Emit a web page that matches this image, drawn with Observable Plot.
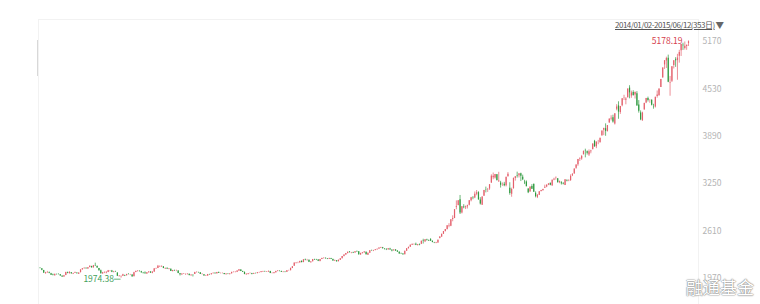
<!DOCTYPE html>
<html><head><meta charset="utf-8">
<script src="https://cdn.jsdelivr.net/npm/d3@7"></script>
<script src="https://cdn.jsdelivr.net/npm/@observablehq/plot@0.6"></script>
<style>
body{margin:0;background:#fff;width:760px;height:304px;overflow:hidden;position:relative;font-family:"Microsoft YaHei","Noto Sans CJK SC",sans-serif}
#range{position:absolute;left:615px;top:18px;font-size:8px;color:#555;white-space:nowrap;letter-spacing:-0.5px}
#range span{text-decoration:underline}
#range b{font-weight:normal;color:#666;font-size:8.5px;margin-left:1px;letter-spacing:0}
#wm{position:absolute;left:686px;top:274px;font-size:17px;color:#fff;white-space:nowrap;
 text-shadow:0 0 1px #888,0 0 1px #888,0 0 2px #999;letter-spacing:0px}
#grip{position:absolute;left:37px;top:40px;width:1px;height:36px;background:#d8d8d8}
</style></head><body>
<div id="chart"></div>
<div id="grip"></div>
<div id="range"><span>2014/01/02-2015/06/12(353日)</span><b>▼</b></div>
<div id="wm">融通基金</div>
<script>
const rangeLabel = "2014/01/02-2015/06/12(353日)";
const yTicks = [1970, 2610, 3250, 3890, 4530, 5170];

const opens = [
2112,2101,2079,2034,2047,2048,2034,2016,2008,2024,2024,2021,2001,1991,2010,2050,2036,2046,2031,2042,2043,
2027,2048,2087,2103,2110,2097,2118,2132,2114,2143,2132,2104,2075,2033,2046,2043,
2052,2071,2072,2053,2060,2045,1997,1993,2001,2010,2007,2027,2021,2017,1995,2050,2066,2067,2060,2043,2045,
2031,2047,2058,2040,2057,2100,2105,2126,2127,2128,2099,2108,2093,2094,2063,2077,2072,2071,2034,2020,2030,
2026,2025,2026,2008,2014,2025,2051,2049,2046,2023,2021,2004,2004,2023,2022,2035,2041,2034,2051,2039,
2038,2037,2022,2031,2027,2033,2051,2052,2053,2070,2086,2063,2054,2022,2023,2035,2034,2026,2037,2036,
2047,2050,2059,2064,2056,2058,2066,2036,2039,2046,2066,2070,2065,2053,2058,2054,2076,2075,2106,2136,2180,2182,2183,
2201,2185,2224,2216,2215,2183,2196,2225,2222,2220,2200,2227,2240,2243,2235,2230,2240,2228,2207,2211,2197,
2217,2236,2266,2288,2308,2328,2315,2320,2315,2333,2330,2288,2306,2316,2326,2285,2311,2346,2342,2349,2358,
2368,2383,2385,2368,2365,2357,2370,2352,2343,2355,2340,2324,2304,2302,2291,2338,2372,2393,
2420,2430,2432,2416,2425,2432,2478,2466,2494,2484,2495,2472,2454,2446,2450,2510,2530,2568,2605,2631,
2672,2677,2766,2780,2930,2955,3032,2855,2935,2925,2938,2958,3021,3059,3057,3109,3129,3030,2960,3082,3171,3162,3179,
3258,3330,3327,3371,3276,3259,3223,3242,3224,3343,3189,3108,3182,3320,3357,3358,3384,3338,3270,3274,
3180,3141,3212,3243,3120,3065,3094,3145,3159,3190,3205,3230,3257,3222,3299,
3332,3318,3264,3264,3250,3225,3294,3288,3291,3356,3382,3459,3505,3577,3582,3640,3696,3682,3637,3682,3710,3822,
3749,3825,3803,3899,3973,3992,3956,4072,4123,4140,4056,4254,4301,4212,4304,4412,4378,4411,4541,4434,4483,
4447,4465,4314,4205,4097,4245,4338,4402,4376,4377,4286,4285,4427,4438,4549,4680,4854,4906,4943,4603,
4633,4845,4924,4912,4970,5045,5119,5077,5101,5144
];
const highs = [
2113,2102,2080,2053,2066,2058,2040,2029,2027,2030,2034,2024,2008,2011,2055,2057,2060,2050,2041,2056,2045,
2045,2087,2105,2113,2112,2118,2140,2136,2146,2177,2140,2106,2084,2052,2059,2060,
2079,2077,2079,2066,2068,2046,2010,2006,2027,2015,2027,2035,2026,2020,2054,2071,2077,2073,2067,2052,2060,
2050,2063,2061,2059,2100,2109,2146,2140,2141,2130,2112,2111,2102,2099,2080,2083,2083,2075,2038,2033,2036,
2031,2035,2029,2024,2018,2054,2061,2055,2048,2031,2022,2013,2025,2027,2035,2044,2046,2052,2057,2044,
2045,2038,2034,2034,2036,2056,2058,2060,2073,2090,2088,2068,2056,2033,2036,2045,2039,2041,2043,2050,
2055,2064,2067,2068,2062,2070,2067,2047,2050,2068,2075,2073,2069,2062,2061,2076,2081,2108,2130,2178,2186,2190,2203,
2210,2224,2232,2228,2219,2198,2227,2230,2229,2224,2227,2244,2248,2247,2240,2244,2242,2232,2218,2213,2218,
2238,2267,2290,2308,2327,2333,2322,2325,2333,2341,2333,2311,2320,2333,2327,2313,2346,2353,2350,2360,2367,
2383,2391,2390,2375,2370,2375,2378,2360,2358,2360,2346,2330,2312,2305,2338,2375,2393,2423,
2438,2437,2448,2430,2436,2475,2500,2495,2500,2490,2508,2478,2458,2458,2490,2535,2568,2605,2632,2683,
2710,2764,2816,2900,3018,3021,3091,2940,2967,2948,2960,3022,3065,3076,3138,3158,3141,3061,3073,3160,3204,3186,3239,
3370,3394,3375,3374,3404,3282,3260,3268,3337,3400,3263,3190,3325,3346,3406,3383,3392,3365,3296,3288,
3181,3205,3237,3243,3140,3102,3142,3160,3176,3230,3236,3251,3258,3300,3324,
3336,3318,3286,3277,3265,3303,3303,3303,3370,3387,3449,3505,3578,3600,3632,3689,3716,3692,3706,3702,3787,3835,
3817,3835,3864,3961,4000,4058,4034,4128,4168,4175,4194,4317,4356,4294,4398,4444,4412,4529,4573,4500,4505,
4489,4493,4372,4233,4216,4338,4402,4419,4385,4382,4322,4417,4502,4529,4658,4814,4911,4958,4986,4698,
4829,4911,4951,4997,5051,5131,5147,5164,5122,5178.19
];
const lows = [
2101,2075,2037,2030,2041,2034,2011,2005,2002,2016,2019,2001,1984,1986,2008,2033,2030,2028,2023,2040,2031,
2024,2047,2082,2098,2097,2094,2114,2111,2111,2131,2108,2069,2030,2025,2036,2033,
2049,2060,2049,2046,2053,1996,1989,1974.38,1998,1996,2005,2018,2009,1985,1994,2048,2058,2058,2041,2031,2028,
2025,2043,2039,2034,2052,2094,2104,2118,2119,2103,2094,2091,2087,2064,2058,2067,2062,2035,2004,2010,2024,
2012,2016,2005,2001,1991,2024,2043,2041,2024,2018,2002,1998,2000,2014,2018,2032,2030,2029,2038,2032,
2032,2020,2018,2022,2017,2030,2046,2046,2050,2065,2063,2051,2021,2014,2019,2031,2020,2024,2031,2032,
2044,2046,2055,2054,2051,2052,2036,2033,2031,2044,2061,2060,2052,2048,2048,2051,2069,2074,2103,2134,2166,2170,2175,
2180,2184,2209,2205,2185,2178,2195,2213,2212,2198,2195,2225,2233,2230,2225,2227,2226,2203,2199,2191,2194,
2213,2235,2262,2283,2302,2314,2304,2307,2312,2324,2285,2283,2302,2310,2287,2282,2309,2336,2333,2344,2352,
2363,2375,2365,2355,2347,2350,2353,2330,2338,2338,2323,2298,2297,2284,2290,2336,2368,2391,
2416,2418,2414,2408,2412,2428,2435,2455,2475,2470,2470,2452,2441,2440,2446,2505,2525,2564,2598,2625,
2654,2670,2736,2778,2898,2950,2834,2842,2911,2901,2908,2950,3005,3033,3048,3087,3027,2962,2958,3080,3126,3132,3160,
3253,3303,3312,3285,3267,3191,3214,3209,3207,3340,3095,3067,3177,3285,3326,3327,3279,3292,3238,3209,
3116,3131,3173,3134,3059,3049,3090,3138,3147,3186,3196,3224,3222,3212,3290,
3298,3260,3250,3232,3234,3225,3275,3277,3282,3346,3380,3445,3485,3550,3566,3640,3599,3637,3618,3654,3710,3742,
3723,3776,3800,3890,3899,3890,3947,4063,4098,4068,4042,4234,4120,4186,4288,4373,4315,4408,4396,4403,4431,
4393,4298,4203,4101,4097,4245,4330,4353,4336,4300,4256,4272,4405,4433,4549,4672,4793,4806,4614,4431,
4616,4799,4821,4647,4878,4968,5049,5054,5051,5103
];
const closes = [
2109,2083,2045,2047,2052,2038,2013,2009,2026,2023,2023,2004,1991,2008,2052,2042,2054,2033,2038,2050,2033,
2044,2086,2103,2110,2100,2115,2135,2114,2142,2138,2113,2076,2034,2047,2047,2056,
2075,2071,2053,2060,2057,1999,2001,1997,2019,2004,2024,2025,2021,1993,2047,2066,2067,2063,2046,2041,2033,
2047,2059,2043,2058,2100,2105,2134,2130,2131,2105,2106,2098,2097,2066,2078,2073,2072,2036,2020,2030,2033,
2027,2028,2010,2015,2011,2052,2051,2047,2025,2026,2005,2008,2024,2021,2034,2041,2034,2050,2040,2039,
2038,2024,2030,2029,2033,2052,2054,2055,2070,2087,2066,2055,2024,2026,2034,2035,2025,2037,2036,2048,
2050,2060,2064,2060,2059,2067,2039,2038,2046,2066,2070,2067,2056,2059,2055,2075,2076,2107,2127,2178,2183,2182,2201,
2185,2223,2218,2218,2188,2194,2225,2222,2220,2202,2226,2240,2245,2238,2230,2241,2230,2207,2213,2196,2217,
2235,2266,2288,2307,2326,2320,2319,2315,2331,2331,2290,2308,2316,2329,2290,2311,2345,2344,2347,2357,2364,
2382,2389,2374,2366,2359,2373,2356,2341,2356,2339,2326,2302,2302,2290,2337,2373,2391,2420,
2430,2430,2419,2425,2418,2474,2469,2494,2485,2478,2474,2456,2450,2452,2487,2532,2567,2604,2630,2683,
2680,2763,2779,2899,2938,3020,2856,2940,2925,2938,2953,3021,3061,3057,3108,3128,3032,2977,3072,3157,3168,3166,3235,
3351,3352,3374,3294,3285,3229,3223,3222,3336,3376,3116,3173,3323,3343,3351,3383,3352,3305,3262,3210,
3128,3204,3174,3136,3076,3095,3142,3158,3173,3203,3228,3247,3228,3298,3310,
3336,3263,3280,3248,3241,3302,3286,3290,3349,3372,3449,3503,3577,3583,3617,3688,3691,3661,3682,3691,3786,3748,
3810,3826,3863,3961,3995,3957,4034,4121,4135,4084,4194,4287,4217,4293,4398,4414,4394,4527,4476,4476,4442,
4480,4298,4229,4112,4205,4334,4401,4375,4378,4308,4283,4417,4446,4529,4658,4813,4910,4941,4620,4611,
4828,4910,4910,4947,5023,5131,5113,5106,5121,5166
];

if (opens.length !== 353 || highs.length !== 353 || lows.length !== 353 || closes.length !== 353)
  throw new Error(`lengths ${opens.length} ${highs.length} ${lows.length} ${closes.length}`);

const UP = "#e4606c", DOWN = "#2f9a40";
const data = closes.map((c, i) => ({i, o: opens[i], h: highs[i], l: lows[i], c}));
const upData = data.filter(d => d.c >= d.o);
const downData = data.filter(d => d.c < d.o);
const lowV = d3.min(lows), highV = d3.max(highs);
const lowPt = [{i: lows.indexOf(lowV), v: lowV}];
const highPt = [{i: highs.indexOf(highV), v: highV}];

const chart = Plot.plot({
  width: 760, height: 304,
  marginLeft: 38, marginRight: 62, marginTop: 19, marginBottom: 0,
  style: {background: "#fff", fontFamily: "'Microsoft YaHei','Noto Sans CJK SC',sans-serif"},
  x: {domain: [0, 352], range: [39.5, 688], axis: null},
  y: {domain: [1970, 5170], range: [278, 41]},
  marks: [
    Plot.frame({stroke: "#f2f2f2"}),
    Plot.axisY({ticks: yTicks, anchor: "right", tickSize: 0, tickPadding: 4, tickFormat: d => String(d),
      fill: "#b4b4b4", fontSize: 8.5, label: null}),
    Plot.ruleX(upData, {x: "i", y1: "l", y2: "h", stroke: UP, strokeWidth: 0.7}),
    Plot.ruleX(downData, {x: "i", y1: "l", y2: "h", stroke: DOWN, strokeWidth: 0.7}),
    Plot.ruleX(upData, {x: "i", y1: "o", y2: "c", stroke: UP, strokeWidth: 1.2}),
    Plot.ruleX(downData, {x: "i", y1: "o", y2: "c", stroke: DOWN, strokeWidth: 1.2}),
    Plot.ruleY(lowPt, {y: "v", x1: d => d.i - 3.5, x2: "i", stroke: "#41a05a", strokeWidth: 0.8, dy: 1}),
    Plot.text(lowPt, {x: "i", y: "v", text: d => d.v.toFixed(2), dx: -7, dy: 1, textAnchor: "end", fill: "#41a05a", fontSize: 8.5}),
    Plot.text(highPt, {x: "i", y: "v", text: d => d.v.toFixed(2), dx: -6, dy: 0, textAnchor: "end", fill: "#d5404d", fontSize: 8.5})
  ]
});
document.getElementById("chart").appendChild(chart);
</script>
</body></html>
